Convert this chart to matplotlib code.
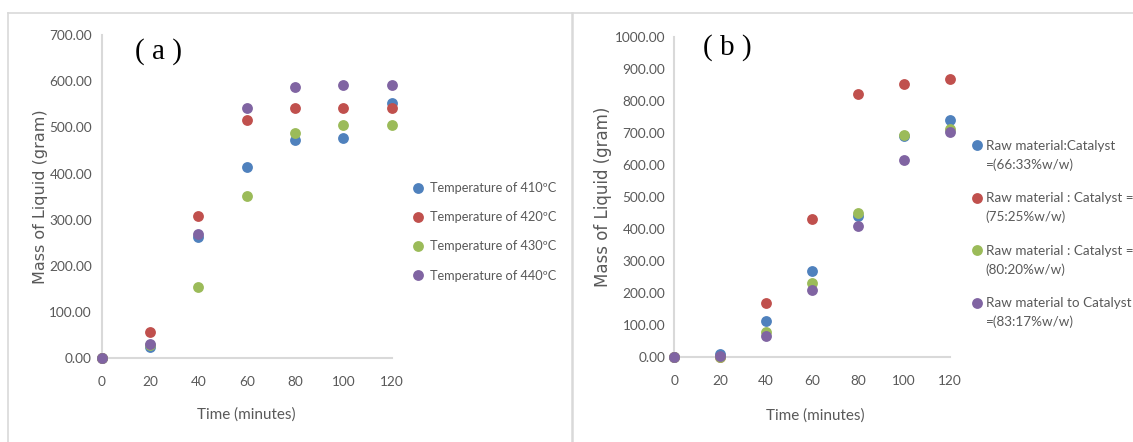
import numpy as np
import matplotlib
matplotlib.use("Agg")
import matplotlib.pyplot as plt
from matplotlib.lines import Line2D

W, H = 1133, 442
NARROW = ['Lato', 'DejaVu Sans']
GRAY = '#595959'
AXC = '#D9D9D9'
COLORS = ['#4F81BD', '#C0504D', '#9BBB59', '#8064A2']

# ---------------- data ----------------
time_min = [0, 20, 40, 60, 80, 100, 120]

labels_a = ['Temperature of 410ºC', 'Temperature of 420ºC',
            'Temperature of 430ºC', 'Temperature of 440ºC']
temp_410 = [0, 25, 262, 415, 473, 478, 552]
temp_420 = [0, 56, 309, 516, 543, 543, 543]
temp_430 = [0, 28, 155, 352, 488, 506, 506]
temp_440 = [0, 32, 270, 541, 588, 592, 592]

labels_b = ['Raw material:Catalyst\n=(66:33%w/w)',
            'Raw material : Catalyst =\n(75:25%w/w)',
            'Raw material : Catalyst =\n(80:20%w/w)',
            'Raw material to Catalyst\n=(83:17%w/w)']
ratio_66_33 = [0, 8, 111, 269, 441, 690, 740]
ratio_75_25 = [0, 0, 167, 430, 821, 852, 867]
ratio_80_20 = [0, 0, 78, 229, 450, 693, 711]
ratio_83_17 = [0, 2, 65, 210, 409, 615, 703]

yticks_a = np.arange(0, 701, 100)
yticks_b = np.arange(0, 1001, 100)
xticks = [0, 20, 40, 60, 80, 100, 120]

TICK_FS = 9.8
LEG_FS_A = 9.2
LEG_FS_B = 9.7


def fx(x):
    return x / W


def fy(y):
    return 1 - y / H


fig = plt.figure(figsize=(W / 100, H / 100), dpi=100)
fig.patch.set_facecolor('white')

# panel frames
fig.add_artist(Line2D([fx(8), fx(1133)], [fy(13), fy(13)], color=AXC, lw=1.2))
fig.add_artist(Line2D([fx(8), fx(8)], [fy(13), fy(442)], color=AXC, lw=1.2))
fig.add_artist(Line2D([fx(571.8), fx(571.8)], [fy(13), fy(442)], color=AXC, lw=1.8))


def make_axes(rect_px, ylim, yticks):
    x0, y0, x1, y1 = rect_px  # left, top, right, bottom in px
    ax = fig.add_axes([fx(x0), fy(y1), (x1 - x0) / W, (y1 - y0) / H])
    ax.set_xlim(0, 120)
    ax.set_ylim(*ylim)
    ax.set_xticks(xticks)
    ax.set_yticks(yticks)
    ax.set_yticklabels([f'{v:.2f}' for v in yticks])
    for s in ['top', 'right']:
        ax.spines[s].set_visible(False)
    for s in ['left', 'bottom']:
        ax.spines[s].set_color(AXC)
        ax.spines[s].set_linewidth(1.5)
        ax.spines[s].set_zorder(0.5)
    ax.tick_params(length=0, labelcolor=GRAY, labelsize=TICK_FS)
    for lab in ax.get_xticklabels() + ax.get_yticklabels():
        lab.set_family(NARROW)
    ax.patch.set_alpha(0)
    return ax


# ---------------- panel (a) ----------------
ax_a = make_axes((101.7, 35, 391.7, 358.3), (0, 700), yticks_a)
ax_a.tick_params(axis='y', pad=7)
ax_a.tick_params(axis='x', pad=13)
for vals, c, lab in zip([temp_410, temp_420, temp_430, temp_440], COLORS, labels_a):
    ax_a.plot(time_min, vals, linestyle='none', marker='o', markersize=7.8,
              color=c, markeredgewidth=0, label=lab, clip_on=False, zorder=3)
ax_a.set_xlabel('Time (minutes)', family=NARROW, fontsize=11, color=GRAY)
ax_a.xaxis.set_label_coords(0.5, -0.152)
ax_a.set_ylabel('Mass of Liquid (gram)', family='DejaVu Sans', fontsize=11.5, color=GRAY)
ax_a.yaxis.set_label_coords(-0.185, 0.5)
leg_a = ax_a.legend(loc='upper left', bbox_to_anchor=(fx(412.5), fy(182)),
                    bbox_transform=fig.transFigure, frameon=False, numpoints=1,
                    handlelength=0.9, handletextpad=0.45, labelspacing=1.35,
                    borderpad=0, borderaxespad=0,
                    prop={'family': NARROW, 'size': LEG_FS_A})
for t in leg_a.get_texts():
    t.set_color(GRAY)
fig.text(fx(158.5), fy(52), '( a )', family='Liberation Serif', fontsize=21,
         ha='center', va='center', color='black')

# ---------------- panel (b) ----------------
ax_b = make_axes((674.3, 36.7, 950, 356.7), (0, 1000), yticks_b)
ax_b.tick_params(axis='y', pad=6.5)
ax_b.tick_params(axis='x', pad=13)
for vals, c, lab in zip([ratio_66_33, ratio_75_25, ratio_80_20, ratio_83_17], COLORS, labels_b):
    ax_b.plot(time_min, vals, linestyle='none', marker='o', markersize=7.8,
              color=c, markeredgewidth=0, label=lab, clip_on=False, zorder=3)
ax_b.set_xlabel('Time (minutes)', family=NARROW, fontsize=11, color=GRAY)
ax_b.xaxis.set_label_coords(0.51, -0.16)
ax_b.set_ylabel('Mass of Liquid (gram)', family='DejaVu Sans', fontsize=12, color=GRAY)
ax_b.yaxis.set_label_coords(-0.225, 0.5)
LS = 1.6
leg_b = ax_b.legend(loc='upper left', bbox_to_anchor=(fx(971.6), fy(140)),
                    bbox_transform=fig.transFigure, frameon=False, numpoints=1,
                    handlelength=0.75, handletextpad=0.3, labelspacing=1.6,
                    borderpad=0, borderaxespad=0,
                    prop={'family': NARROW, 'size': LEG_FS_B})
for t in leg_b.get_texts():
    t.set_color(GRAY)
    t.set_linespacing(LS)
# move legend keys up to the first line of each two-line label
shift_pt = 0.5 * 20.5 * 72 / 100
for h in leg_b.legend_handles:
    h.set_ydata(np.asarray(h.get_ydata(), dtype=float) + shift_pt)
fig.text(fx(727.5), fy(48), '( b )', family='Liberation Serif', fontsize=21,
         ha='center', va='center', color='black')

fig.savefig('out.png', dpi=100, facecolor='white')
